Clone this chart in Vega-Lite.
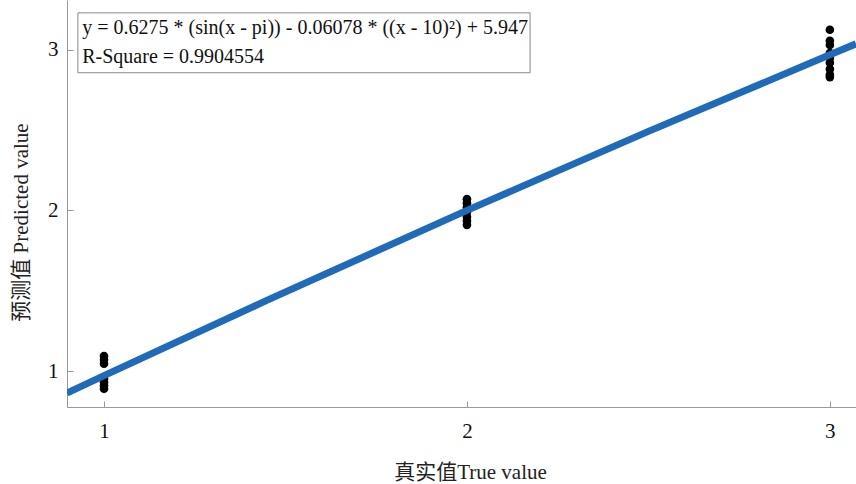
{
  "$schema": "https://vega.github.io/schema/vega-lite/v6.json",
  "width": 789,
  "height": 407,
  "autosize": "none",
  "padding": {"left": 67, "top": 0, "right": 0, "bottom": 77},
  "background": "white",
  "config": {"view": {"stroke": null}, "font": "Liberation Serif"},
  "datasets": {
    "pts": [
      {"t": 1, "p": 1.093}, {"t": 1, "p": 1.07}, {"t": 1, "p": 1.045}, {"t": 1, "p": 0.95}, {"t": 1, "p": 0.93}, {"t": 1, "p": 0.91}, {"t": 1, "p": 0.89},
      {"t": 2, "p": 2.07}, {"t": 2, "p": 2.045}, {"t": 2, "p": 2.02}, {"t": 2, "p": 1.99}, {"t": 2, "p": 1.96}, {"t": 2, "p": 1.935}, {"t": 2, "p": 1.91},
      {"t": 3, "p": 3.125}, {"t": 3, "p": 3.056}, {"t": 3, "p": 3.03}, {"t": 3, "p": 2.98}, {"t": 3, "p": 2.95}, {"t": 3, "p": 2.92}, {"t": 3, "p": 2.88}, {"t": 3, "p": 2.845}, {"t": 3, "p": 2.83}
    ],
    "fit": [
      {"t": 0.898, "p": 0.863}, {"t": 1.0, "p": 0.971}, {"t": 1.45, "p": 1.4415}, {"t": 2.0, "p": 2.0}, {"t": 2.5, "p": 2.492}, {"t": 3.0, "p": 2.969}, {"t": 3.072, "p": 3.037}
    ],
    "box": [{"x1": 0.928, "x2": 2.174, "y1": 2.857, "y2": 3.23}],
    "txt": [
      {"x": 0.94, "y": 3.135, "label": "y = 0.6275 * (sin(x - pi)) - 0.06078 * ((x - 10)²) + 5.947"},
      {"x": 0.94, "y": 2.955, "label": "R-Square = 0.9904554"}
    ]
  },
  "layer": [
    {
      "data": {"name": "pts"},
      "mark": {"type": "point", "filled": true, "color": "black", "size": 75, "opacity": 1},
      "encoding": {
        "x": {"field": "t", "type": "quantitative", "scale": {"domain": [0.898, 3.072], "nice": false, "zero": false},
          "axis": {"title": "真实值True value", "titleFont": "Liberation Serif, Noto Sans CJK SC", "titleFontSize": 21, "titleFontWeight": "normal", "titleColor": "#222", "titlePadding": 20, "titleX": 403,
            "values": [1, 2, 3], "format": "d", "grid": false, "domainColor": "#999", "tickColor": "#999", "tickSize": -6, "labelPadding": 19,
            "labelFontSize": 21, "labelColor": "#111", "labelFont": "Liberation Serif"}},
        "y": {"field": "p", "type": "quantitative", "scale": {"domain": [0.776, 3.31], "nice": false, "zero": false},
          "axis": {"title": "预测值 Predicted value", "titleFont": "Liberation Serif, Noto Sans CJK SC", "titleFontSize": 21, "titleFontWeight": "normal", "titleColor": "#222", "titlePadding": 16, "titleY": 222,
            "values": [1, 2, 3], "format": "d", "grid": false, "domainColor": "#999", "tickColor": "#999", "tickSize": -6, "labelPadding": 15,
            "labelFontSize": 21, "labelColor": "#111", "labelFont": "Liberation Serif"}}
      }
    },
    {
      "data": {"name": "fit"},
      "mark": {"type": "line", "color": "#1f6bb8", "strokeWidth": 7, "interpolate": "monotone", "clip": true},
      "encoding": {
        "x": {"field": "t", "type": "quantitative"},
        "y": {"field": "p", "type": "quantitative"}
      }
    },
    {
      "data": {"name": "box"},
      "mark": {"type": "rect", "fill": "white", "stroke": "#888", "strokeWidth": 1},
      "encoding": {
        "x": {"field": "x1", "type": "quantitative"},
        "x2": {"field": "x2"},
        "y": {"field": "y1", "type": "quantitative"},
        "y2": {"field": "y2"}
      }
    },
    {
      "data": {"name": "txt"},
      "mark": {"type": "text", "align": "left", "baseline": "middle", "fontSize": 20, "font": "Liberation Serif", "color": "#111"},
      "encoding": {
        "x": {"field": "x", "type": "quantitative"},
        "y": {"field": "y", "type": "quantitative"},
        "text": {"field": "label"}
      }
    }
  ]
}
